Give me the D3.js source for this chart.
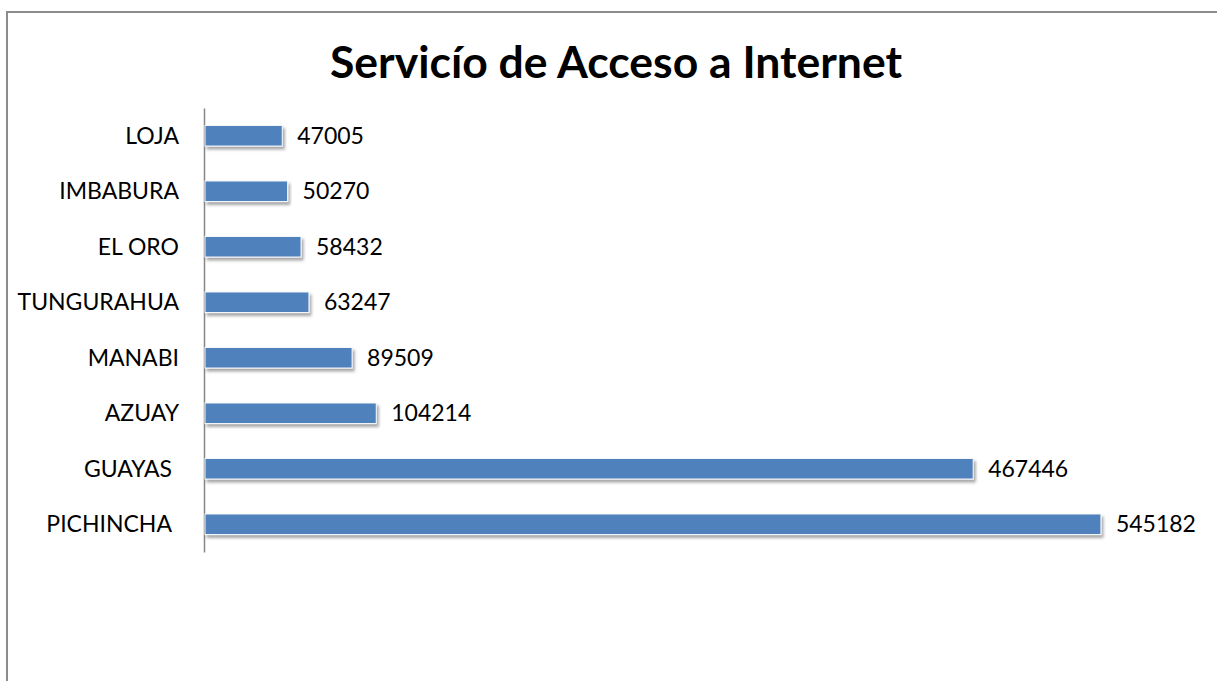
<!DOCTYPE html>
<html>
<head>
<meta charset="utf-8">
<script src="https://cdn.jsdelivr.net/npm/d3@7"></script>
<style>
  body { margin: 0; background: #fff; }
  svg { display: block; }
</style>
</head>
<body>
<svg width="1217" height="681"></svg>
<script>
const provincias = ['LOJA', 'IMBABURA', 'EL ORO', 'TUNGURAHUA', 'MANABI', 'AZUAY', 'GUAYAS ', 'PICHINCHA '];
const usuarios = [47005, 50270, 58432, 63247, 89509, 104214, 467446, 545182];
const titulo = 'Servicío de Acceso a Internet';

const data = provincias.map((p, i) => ({ provincia: p, valor: usuarios[i] }));

const svg = d3.select('svg');
const width = +svg.attr('width');
const height = +svg.attr('height');
const font = 'Lato, "Open Sans", sans-serif';

// marco del gráfico (solo se ven el borde izquierdo y el superior)
svg.append('path')
    .attr('d', `M7,${height} V12 H${width}`)
    .attr('fill', 'none')
    .attr('stroke', '#8c8c8c')
    .attr('stroke-width', 2);

const defs = svg.append('defs');
const sombra = defs.append('filter').attr('id', 'sombra')
    .attr('x', '-5%').attr('y', '-20%').attr('width', '110%').attr('height', '160%');
sombra.append('feDropShadow')
    .attr('dx', 2).attr('dy', 3).attr('stdDeviation', 1.5)
    .attr('flood-color', '#000').attr('flood-opacity', 0.35);

svg.append('text')
    .attr('x', 616).attr('y', 78)
    .attr('text-anchor', 'middle')
    .attr('font-family', font)
    .attr('font-weight', 'bold')
    .attr('font-size', 44.5)
    .text(titulo);

const margin = { top: 108, left: 204 };
const innerHeight = 444;

const xScale = d3.scaleLinear()
    .domain([0, 600000])
    .range([0, 986]);

const yScale = d3.scaleBand()
    .domain(data.map(d => d.provincia))
    .range([0, innerHeight])
    .paddingInner(0.63)
    .paddingOuter(0.315);

const g = svg.append('g')
    .attr('transform', `translate(${margin.left},${margin.top})`);

const yAxis = g.append('g').call(d3.axisLeft(yScale).tickSize(0).tickPadding(25));
yAxis.select('.domain').attr('stroke', '#868686').attr('stroke-width', 1.5);
yAxis.selectAll('text')
    .attr('font-family', font)
    .attr('font-size', 23)
    .attr('fill', '#000')
    .attr('dy', '0.35em')
    .text(d => d.trimEnd())
    .attr('dx', d => d.endsWith(' ') ? -7 : 0);

g.selectAll('rect.barra').data(data)
    .enter().append('rect')
    .attr('class', 'barra')
    .attr('x', 1)
    .attr('y', d => yScale(d.provincia))
    .attr('width', d => xScale(d.valor))
    .attr('height', yScale.bandwidth())
    .attr('fill', '#4f81bd')
    .attr('stroke', '#f4f7fb')
    .attr('stroke-width', 1)
    .attr('filter', 'url(#sombra)');

g.selectAll('text.valor').data(data)
    .enter().append('text')
    .attr('class', 'valor')
    .attr('x', d => xScale(d.valor) + 16)
    .attr('y', d => yScale(d.provincia) + yScale.bandwidth() / 2)
    .attr('dy', '0.35em')
    .attr('font-family', font)
    .attr('font-size', 23)
    .text(d => d.valor);
</script>
</body>
</html>
